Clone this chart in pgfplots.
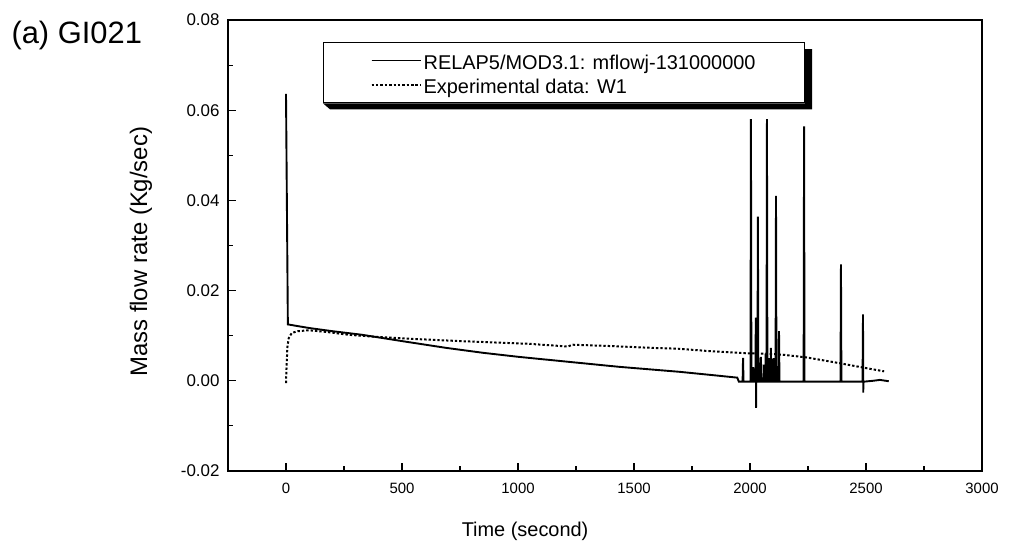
\documentclass[border=0pt]{standalone}
\usepackage{pgfplots}
\pgfplotsset{compat=1.18}
\usepackage{fontspec}
\setmainfont{Liberation Sans}
\newcommand\ls[1]{\raisebox{0pt}[19bp][8bp]{#1}}

\pgfplotstableread{
t y
0 0.0636
8 0.0125
100 0.0117
200 0.0110
328 0.0102
500 0.0088
690 0.0073
850 0.0062
1004 0.0053
1200 0.0043
1435 0.0031
1600 0.0024
1694 0.0020
1850 0.0012
1945 0.0007
1952 -0.0002
1968 -0.0002
1970 0.0051
1972 -0.0002
2002 -0.0002
2004 0.058
2006 -0.0002
2012 -0.0002
2014 0.0030
2016 -0.0002
2023 -0.0002
2025 0.014
2026 -0.006
2027 -0.0002
2032 -0.0002
2034 0.0364
2036 -0.0002
2040 -0.0002
2041 0.0040
2042 -0.0002
2045 -0.0002
2047 0.0053
2049 -0.0002
2058 -0.0002
2060 0.0036
2062 -0.0002
2066 -0.0002
2067 0.0060
2068 -0.0002
2071 -0.0002
2073 0.058
2075 -0.0002
2080 -0.0002
2081 0.0050
2082 -0.0002
2088 -0.0002
2090 0.0073
2092 -0.0002
2100 -0.0002
2101 0.0050
2102 -0.0002
2110 -0.0002
2112 0.041
2114 -0.0002
2123 -0.0002
2125 0.011
2127 -0.0002
2231 -0.0002
2233 0.0564
2235 -0.0002
2390 -0.0002
2392 0.0258
2394 -0.0002
2485 -0.0002
2487 0.0147
2488 -0.0026
2489 -0.0002
2530 0.0000
2560 0.0002
2598 -0.0001
}\relap

\pgfplotstableread{
t y
0 -0.0005
3 0.0040
6 0.0075
12 0.0095
25 0.0106
50 0.0110
100 0.0112
180 0.0108
270 0.0102
400 0.0097
543 0.0093
750 0.0088
1047 0.0082
1215 0.0076
1235 0.0080
1400 0.0077
1578 0.0073
1694 0.0071
1820 0.0066
1983 0.0061
2069 0.0060
2138 0.0058
2241 0.0052
2320 0.0045
2397 0.0038
2491 0.0029
2578 0.0021
}\expdata

\begin{document}
\begin{tikzpicture}[x=1bp,y=1bp]
\path (0,0) rectangle (1009,546);
\begin{axis}[
  at={(228bp,75bp)}, anchor=south west,
  scale only axis, width=754bp, height=451bp,
  xmin=-250, xmax=3000, ymin=-0.02, ymax=0.08,
  xtick={0,500,1000,1500,2000,2500,3000},
  ytick={-0.02,0,0.02,0.04,0.06,0.08},
  scaled y ticks=false, scaled x ticks=false,
  minor x tick num=1, minor y tick num=1,
  tick align=inside, xtick pos=bottom, ytick pos=left,
  major tick length=8bp, minor tick length=5bp,
  axis line style={line width=1.6pt},
  every tick/.style={line width=1.1pt, black},
  /pgf/number format/assume math mode=true,
  /pgf/number format/1000 sep={},
  yticklabel style={/pgf/number format/fixed, /pgf/number format/fixed zerofill, /pgf/number format/precision=2, xshift=-5bp, font=\fontsize{17}{19}\selectfont},
  xticklabel style={yshift=-9bp, font=\fontsize{15}{18}\selectfont},
  xlabel={Time (second)},
  ylabel={Mass flow rate (Kg/sec)},
  xlabel style={at={(axis description cs:0.394,-0.133)}, anchor=center, font=\fontsize{20}{24}\selectfont},
  ylabel style={at={(axis description cs:-0.1154,0.486)}, anchor=center, font=\fontsize{24}{28}\selectfont},
  legend style={name=leg, at={(axis description cs:0.126,0.951)}, anchor=north west,
    draw=black, line width=1.3pt, fill=white,
    font=\fontsize{20}{23}\selectfont,
    inner xsep=47bp, inner ysep=5.5bp,
    legend cell align=left},
  legend image code/.code={\draw[#1, line width=1.9pt] (0bp,0bp) -- (43bp,0bp); \path (0bp,0bp) -- (49bp,0bp);},
]
\addplot[black, line width=1.9pt] table[x=t,y=y] {\relap};
\addlegendentry{\ls{RELAP5/MOD3.1: mflowj-131000000}}
\addplot[black, line width=2pt, dash pattern=on 2.4pt off 2pt] table[x=t,y=y] {\expdata};
\addlegendentry{\ls{Experimental data: W1}}
\end{axis}
\fill[black] ([yshift=-7bp]leg.north east) -- ([xshift=7bp,yshift=-7bp]leg.north east)
  -- ([xshift=7bp,yshift=-6bp]leg.south east) -- ([xshift=7bp,yshift=-6bp]leg.south west)
  -- (leg.south west) -- (leg.south east) -- cycle;
\node[anchor=west, font=\fontsize{31}{36}\selectfont] at (8,510) {(a) GI021};
\end{tikzpicture}
\end{document}
